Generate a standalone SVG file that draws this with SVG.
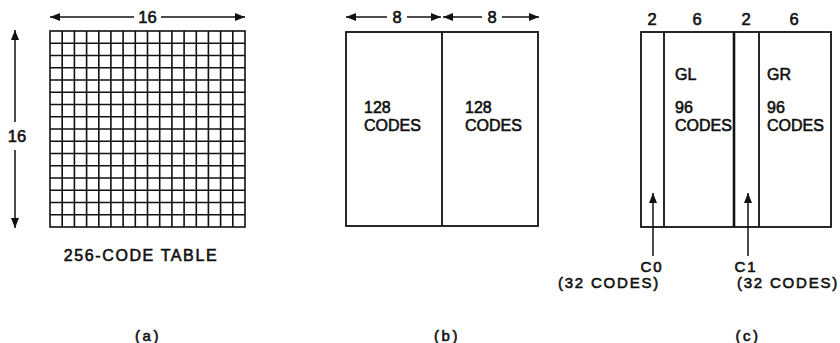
<svg xmlns="http://www.w3.org/2000/svg" width="840" height="343" viewBox="0 0 840 343">
<defs>
<style>
text{font-family:"Liberation Sans",Arial,sans-serif;fill:#111;stroke:#111;stroke-width:0.6px}
.box{fill:none;stroke:#111;stroke-width:1.8}
.ln{stroke:#111;stroke-width:1.8;fill:none}
.grid{stroke:#111;stroke-width:1.6;fill:none}
.c{text-anchor:middle}
.t{font-size:16px;letter-spacing:0px}
.n{font-size:16.5px}
.lab{font-size:15px;letter-spacing:1.8px}
.arr{stroke:#111;stroke-width:1.5;fill:none;marker-end:url(#ah)}
</style>
<marker id="ah" viewBox="0 0 10 8" refX="10" refY="4" markerWidth="10" markerHeight="8" markerUnits="userSpaceOnUse" orient="auto-start-reverse">
<path d="M0,0 L10,4 L0,8 Z" fill="#111"/>
</marker>
</defs>
<rect width="840" height="343" fill="#fff"/>

<g id="panel-a">
<g id="grid-table">
<rect class="grid" x="50" y="31" width="195" height="196"/>
<path class="grid" d="M62.2,31V227M74.4,31V227M86.6,31V227M98.8,31V227M110.9,31V227M123.1,31V227M135.3,31V227M147.5,31V227M159.7,31V227M171.9,31V227M184.1,31V227M196.3,31V227M208.4,31V227M220.6,31V227M232.8,31V227
M50,43.25H245M50,55.5H245M50,67.75H245M50,80H245M50,92.25H245M50,104.5H245M50,116.75H245M50,129H245M50,141.25H245M50,153.5H245M50,165.75H245M50,178H245M50,190.25H245M50,202.5H245M50,214.75H245"/>
</g>
<text class="c" x="141" y="261" style="font-size:16px;letter-spacing:1.6px">256-CODE TABLE</text>
<text class="c" x="148" y="341" style="font-size:15px;letter-spacing:2.5px">(a)</text>
</g>

<g id="panel-b">
<rect class="box" x="346" y="32" width="192" height="194"/>
<line class="ln" x1="442" y1="32" x2="442" y2="226"/>
<text class="t" x="364" y="113">128</text>
<text class="t" x="364" y="131">CODES</text>
<text class="t" x="465" y="113">128</text>
<text class="t" x="465" y="131">CODES</text>
<text class="c" x="447" y="341" style="font-size:15px;letter-spacing:2.5px">(b)</text>
</g>

<g id="panel-c">
<rect class="box" x="641" y="32" width="190" height="195"/>
<line class="ln" x1="664" y1="32" x2="664" y2="227"/>
<line class="ln" x1="734" y1="32" x2="734" y2="227" style="stroke-width:2.6"/>
<line class="ln" x1="759" y1="32" x2="759" y2="227"/>
<text class="c n" x="652" y="25">2</text>
<text class="c n" x="697" y="25">6</text>
<text class="c n" x="746" y="25">2</text>
<text class="c n" x="794" y="25">6</text>
<text class="t" x="675" y="80">GL</text>
<text class="t" x="675" y="113">96</text>
<text class="t" x="675" y="131">CODES</text>
<text class="t" x="767" y="80">GR</text>
<text class="t" x="767" y="113">96</text>
<text class="t" x="767" y="131">CODES</text>
<text class="c lab" x="652" y="272">C0</text>
<text class="c lab" x="609" y="288">(32 CODES)</text>
<text class="c lab" x="746" y="272">C1</text>
<text class="c lab" x="788" y="288">(32 CODES)</text>
<text class="c" x="748" y="341" style="font-size:15px;letter-spacing:2.5px">(c)</text>
</g>

<g id="connectors">
<line class="arr" x1="134" y1="17" x2="50" y2="17"/>
<line class="arr" x1="161" y1="17" x2="245" y2="17"/>
<text class="c n" x="147.5" y="23">16</text>
<line class="arr" x1="15" y1="122" x2="15" y2="30"/>
<line class="arr" x1="15" y1="150" x2="15" y2="228"/>
<text class="c n" x="17" y="142">16</text>
<line class="arr" x1="387" y1="17" x2="346" y2="17"/>
<line class="arr" x1="407" y1="17" x2="441" y2="17"/>
<text class="c n" x="397" y="23">8</text>
<line class="arr" x1="482" y1="17" x2="443" y2="17"/>
<line class="arr" x1="502" y1="17" x2="539" y2="17"/>
<text class="c n" x="492" y="23">8</text>
<line class="arr" x1="653" y1="256" x2="653" y2="193"/>
<line class="arr" x1="748" y1="256" x2="748" y2="193"/>
</g>
</svg>
